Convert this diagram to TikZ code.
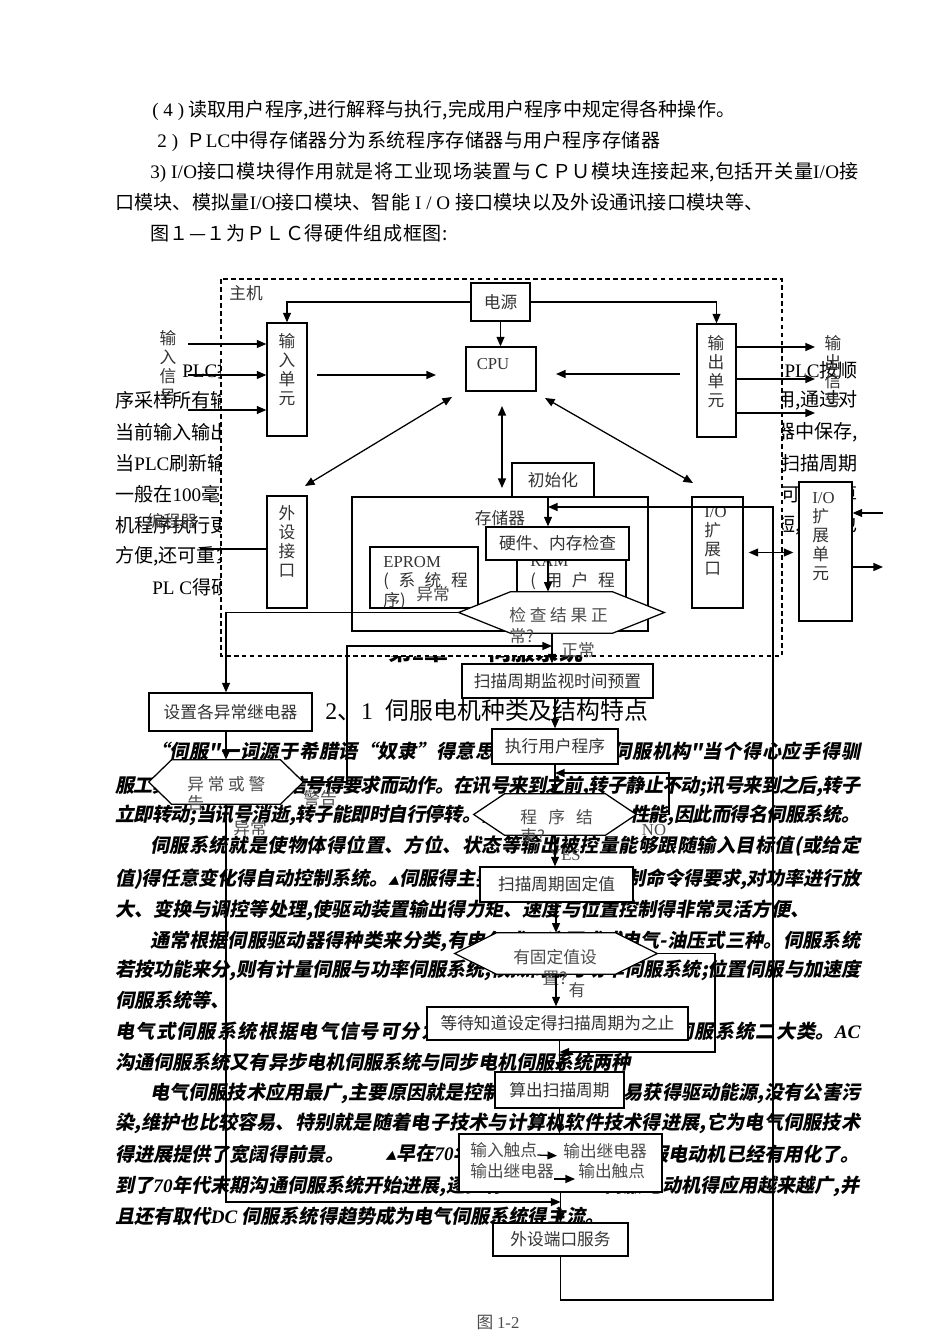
\documentclass[tikz,border=0pt]{standalone}
\usepackage{fontspec}
\setmainfont{Liberation Serif}
\newfontfamily\song{Noto Sans CJK SC}
\newfontfamily\kaibi{Noto Sans CJK SC}[FakeSlant=0.2]
\usetikzlibrary{arrows.meta}
\newlength{\px}
\setlength{\px}{0.0221cm}
\XeTeXlinebreaklocale "zh"
\XeTeXlinebreakskip=0pt plus 6pt minus 2pt
\newcommand{\jl}[2]{\parbox{#1\px}{\parfillskip=0pt #2}}
\newcommand{\lat}[1]{{\rmfamily\bfseries\itshape #1}}
\newcommand{\hexpath}[2]{\draw[hexbody] (#1.west) -- ([xshift=#2\px]#1.north west) -- ([xshift=-#2\px]#1.north east) -- (#1.east) -- ([xshift=-#2\px]#1.south east) -- ([xshift=#2\px]#1.south west) -- cycle;}
\tikzset{
  topline/.style={anchor=west, inner sep=0pt, font=\song\fontsize{12}{14}\selectfont},
  sideline/.style={topline},
  sideright/.style={topline, anchor=east},
  bodyline/.style={anchor=west, inner sep=0pt, font=\kaibi\bfseries\fontsize{12}{14}\selectfont},
  bodyright/.style={bodyline, anchor=east},
  chapterhead/.style={anchor=west, inner sep=0pt, font=\song\bfseries\fontsize{15}{18}\selectfont},
  sectionhead/.style={anchor=west, inner sep=0pt, font=\song\fontsize{15}{18}\selectfont},
  host/.style={draw=black, line width=0.7pt, dash pattern=on 3pt off 2pt, fill=white},
  boxdim/.style 2 args={minimum width=#1\px, minimum height=#2\px},
  unitbox/.style={draw=black, line width=0.8pt, fill=white, inner sep=0pt, text=black!80, font=\song\fontsize{10.5}{12}\selectfont},
  unittext/.style={inner sep=0pt, text=black!80, align=center, font=\song\fontsize{10.5}{12}\selectfont},
  hexspot/.style={inner sep=0pt},
  hexbody/.style={draw=black, line width=0.8pt, fill=white},
  flowlabel/.style={inner sep=0pt, text=black!70, font=\song\fontsize{10.5}{12}\selectfont},
  flow/.style={line width=0.8pt, -{Triangle[length=6pt, width=5pt]}},
  twoway/.style={line width=0.8pt, {Triangle[length=6pt, width=5pt]}-{Triangle[length=6pt, width=5pt]}},
  wire/.style={line width=0.8pt},
}
\begin{document}
\begin{tikzpicture}[x=\px, y=-\px]
\useasboundingbox (0,0) rectangle (950,1344);
\node[topline] (intro1) at (152,110) {\jl{583}{{\rmfamily ( 4 )} 读取用户程序,进行解释与执行,完成用户程序中规定得各种操作。}};
\node[topline] (intro2) at (157,141) {\jl{503}{{\rmfamily 2 )}\ \ Ｐ{\rmfamily LC}中得存储器分为系统程序存储器与用户程序存储器}};
\node[topline] (intro3) at (150,172) {\jl{708}{{\rmfamily 3) I/O}接口模块得作用就是将工业现场装置与ＣＰＵ模块连接起来,包括开关量{\rmfamily I/O}接}};
\node[topline] (intro4) at (115,202) {\jl{648}{口模块、模拟量{\rmfamily I/O}接口模块、智能{\rmfamily\ I / O\ }接口模块以及外设通讯接口模块等、}};
\node[topline] (intro5) at (150,233) {\jl{297}{图１—１为ＰＬＣ得硬件组成框图:}};
\node[sideline] (left1) at (182,370) {{\rmfamily PLC}按顺序扫描};
\node[sideline] (left2) at (115,400) {序采样所有输入端的};
\node[sideline] (left3) at (115,432) {当前输入输出状态};
\node[sideline] (left4) at (115,463) {当{\rmfamily PLC}刷新输出};
\node[sideline] (left5) at (115,494) {一般在{\rmfamily 100}毫秒以内};
\node[sideline] (left6) at (115,525) {机程序执行更完美};
\node[sideline] (left7) at (115,556) {方便,还可重复使用};
\node[sideline] (left8) at (152,587) {{\rmfamily PL C}得硬件};
\node[sideright] (right1) at (858,370) {{\rmfamily PLC}按顺};
\node[sideright] (right2) at (858,400) {的作用,通过对};
\node[sideright] (right3) at (858,432) {存储器中保存,};
\node[sideright] (right4) at (858,463) {每个扫描周期};
\node[sideright] (right5) at (858,494) {时间可以计算};
\node[sideright] (right6) at (858,525) {很短,所以也};
\node[chapterhead] (chapter) at (388,651) {第{\rmfamily 2}章\hspace{25pt}伺服系统};
\draw[host] (221,279) rectangle (782,656);
\node[unittext] (hostname) at (246,293) {主机};
\node[sectionhead] (section) at (325,710) {{\rmfamily 2}、{\rmfamily 1}\hspace{8pt}伺服电机种类及结构特点};
\node[bodyline] (body1) at (150,751) {\jl{710}{“伺服"一词源于希腊语“奴隶”得意思。人们想把“伺服机构"当个得心应手得驯}};
\node[bodyline] (body2) at (115,786) {\jl{745}{服工具那样,按照控制信号得要求而动作。在讯号来到之前,转子静止不动;讯号来到之后,转子}};
\node[bodyline] (body3) at (115,815) {\jl{745}{立即转动;当讯号消逝,转子能即时自行停转。由于它得“伺服”性能,因此而得名伺服系统。}};
\node[bodyline] (body4) at (150,846) {\jl{710}{伺服系统就是使物体得位置、方位、状态等输出被控量能够跟随输入目标值(或给定}};
\node[bodyline] (body5) at (115,879) {\jl{745}{值)得任意变化得自动控制系统。{\scriptsize ▲}伺服得主要任务就是按照控制命令得要求,对功率进行放}};
\node[bodyline] (body6) at (115,910) {大、变换与调控等处理,使驱动装置输出得力矩、速度与位置控制得非常灵活方便、};
\node[bodyline] (body7) at (150,941) {\jl{710}{通常根据伺服驱动器得种类来分类,有电气式、液压式或电气-油压式三种。伺服系统}};
\node[bodyline] (body8) at (115,970) {\jl{745}{若按功能来分,则有计量伺服与功率伺服系统;模拟伺服与功率伺服系统;位置伺服与加速度}};
\node[bodyline] (body9) at (115,1000) {伺服系统等、};
\node[bodyline] (body10) at (115,1031) {\jl{745}{电气式伺服系统根据电气信号可分为\lat{DC}直流伺服系统与\lat{AC}沟通伺服系统二大类。\lat{AC}}};
\node[bodyline] (body11) at (115,1062) {沟通伺服系统又有异步电机伺服系统与同步电机伺服系统两种};
\node[bodyline] (body12) at (150,1093) {\jl{710}{电气伺服技术应用最广,主要原因就是控制方便、灵活,容易获得驱动能源,没有公害污}};
\node[bodyline] (body13) at (115,1123) {\jl{745}{染,维护也比较容易、特别就是随着电子技术与计算机软件技术得进展,它为电气伺服技术}};
\node[bodyline] (body14) at (115,1154) {得进展提供了宽阔得前景。};
\node[bodyline] (body14b) at (385,1154) {{\scriptsize ▲}早在\lat{70}年代后期,交流};
\node[bodyright] (body14c) at (860,1154) {伺服电动机已经有用化了。};
\node[bodyline] (body15) at (115,1186) {到了\lat{70}年代末期沟通伺服系统开始进展,逐步有};
\node[bodyright] (body15b) at (860,1186) {伺服电动机得应用越来越广,并};
\node[bodyline] (body16) at (115,1216) {且还有取代\lat{DC} 伺服系统得趋势成为电气伺服系统得主流。};
\node[unitbox, boxdim={59}{38}] (psu) at (500.5,302) {电源};
\node[unitbox, boxdim={70}{44}] (cpu) at (501,369) {};
\node[unittext] (cputext) at (493,364) {\rmfamily CPU};
\node[unitbox, boxdim={40}{113}] (inunit) at (287,379.5) {};
\node[unittext] (inunittext) at (287,369.5) {输\\入\\单\\元};
\node[unitbox, boxdim={39}{113}] (outunit) at (716.5,380.5) {};
\node[unittext] (outunittext) at (716,371.5) {输\\出\\单\\元};
\node[unitbox, boxdim={40}{112}] (periph) at (287,552) {};
\node[unittext] (periphtext) at (287,541.5) {外\\设\\接\\口};
\node[unitbox, boxdim={51}{111}] (ioport) at (717.5,552.5) {};
\node[unittext, align=left, anchor=west] (ioporttext) at (704,541) {\rmfamily I/O\\扩\\展\\口};
\node[unitbox, boxdim={53}{139}] (iounit) at (825.5,551.5) {};
\node[unittext, align=left, anchor=west] (iounittext) at (812,536.5) {\rmfamily I/O\\扩\\展\\单\\元};
\node[unitbox, boxdim={82}{34}] (init) at (553,480) {初始化};
\node[unitbox, boxdim={296}{134}] (mem) at (500,564) {};
\node[unittext] (memtext) at (500,518) {存储器};
\node[unitbox, boxdim={108}{61}] (eprom) at (424,577.5) {};
\node[unittext, align=left, anchor=west, font=\song\fontsize{10.5}{12.5}\selectfont] (epromtext) at (383,583) {{\rmfamily EPROM}\\(\hspace{6pt}系\hspace{6pt}统\hspace{6pt}程\\序)};
\node[unitbox, boxdim={109}{59}] (ram) at (571.5,576.5) {};
\node[unittext, align=left, anchor=west, font=\song\fontsize{10.5}{12.5}\selectfont] (ramtext) at (530,583) {{\rmfamily RAM}\\(\hspace{6pt}用\hspace{6pt}户\hspace{6pt}程\\序)};
\node[unitbox, boxdim={143}{33}] (hwcheck) at (557.5,543.5) {硬件、内存检查};
\node[hexspot, boxdim={205}{41}] (chk) at (561.5,612.5) {};
\hexpath{chk}{52}
\node[flowlabel, align=left, anchor=west, font=\song\fontsize{10.5}{13}\selectfont] (chktext) at (509,625.5) {检 查 结 果 正\\常?};
\node[unitbox, boxdim={191}{34}] (scanset) at (557.5,681) {扫描周期监视时间预置};
\node[unitbox, boxdim={163}{38}] (setrelay) at (230.5,712) {设置各异常继电器};
\node[hexspot, boxdim={154}{44}] (warn) at (226,782) {};
\hexpath{warn}{23}
\node[flowlabel, align=left, anchor=west] (warntext) at (187,793.5) {异 常 或 警\\告};
\node[unitbox, boxdim={126}{35}] (exec) at (555,746.5) {执行用户程序};
\node[hexspot, boxdim={162}{41}] (endq) at (555,814.5) {};
\hexpath{endq}{31}
\node[flowlabel, align=left, anchor=west] (endqtext) at (520,827) {程\ \ \ 序\ \ \ 结\\束?};
\node[unitbox, boxdim={153}{35}] (scanfix) at (556.5,884.5) {扫描周期固定值};
\node[hexspot, boxdim={202}{41}] (hasset) at (556,953.5) {};
\hexpath{hasset}{42}
\node[flowlabel, align=center, font=\song\fontsize{10.5}{13}\selectfont] (hassettext) at (555,967.5) {有固定值设\\置?};
\node[unitbox, boxdim={261}{33}] (waitscan) at (557.5,1023.5) {等待知道设定得扫描周期为之止};
\node[unitbox, boxdim={129}{36}] (calcscan) at (559.5,1090) {算出扫描周期};
\node[unitbox, boxdim={203}{58}] (iorefresh) at (560.5,1163) {};
\node[flowlabel, anchor=west] (incontact) at (470,1150) {输入触点};
\node[flowlabel, anchor=west] (outrelayA) at (563,1151) {输出继电器};
\node[flowlabel, anchor=west] (outrelayB) at (470,1171) {输出继电器};
\node[flowlabel, anchor=west] (outcontact) at (578,1171) {输出触点};
\node[unitbox, boxdim={135}{33}] (portsvc) at (560.5,1239.5) {外设端口服务};
\node[flowlabel] (figcap) at (498,1323) {图 {\rmfamily 1-2}};
\node[flowlabel] (abnlabelA) at (433,594) {异常};
\node[flowlabel] (oklabel) at (578,650) {正常};
\node[flowlabel] (warnlabel) at (320,798) {警告};
\node[flowlabel] (abnlabelB) at (250,828) {异常};
\node[flowlabel] (nolabel) at (654,830) {\rmfamily NO};
\node[flowlabel] (yeslabel) at (565,855) {\rmfamily YES};
\node[flowlabel] (haslabel) at (577,990) {有};
\node[unittext] (insignal) at (168,367) {输\\入\\信\\号};
\node[unittext] (outsignal) at (833,371.5) {输\\出\\信\\号};
\node[unittext] (programmer) at (172,521) {编程器};
\coordinate (sigin1) at (188,344);
\coordinate (sigin2) at (188,375);
\coordinate (sigin3) at (188,410);
\coordinate (sigout1) at (815,347);
\coordinate (sigout2) at (815,379);
\coordinate (sigout3) at (815,413);
\coordinate (incpuA) at (317,375);
\coordinate (incpuB) at (436,375);
\coordinate (outcpuA) at (680,374);
\coordinate (outcpuB) at (556,374);
\coordinate (diagA) at (452,397);
\coordinate (diagB) at (305,486);
\coordinate (diagC) at (545,398);
\coordinate (diagD) at (693,483);
\coordinate (cpumemA) at (502,406);
\coordinate (cpumemB) at (502,488);
\coordinate (mainx) at (548,507);
\coordinate (loopB) at (773,1300);
\coordinate (loopT) at (773,507);
\coordinate (okjoin) at (552,646);
\coordinate (warnret) at (347,646);
\coordinate (abnturn) at (226,1202);
\coordinate (noturn) at (669,773);
\coordinate (noneturn) at (715,1052);
\coordinate (exin) at (883,513);
\coordinate (exout) at (883,567);
\coordinate (progend) at (200,549);
\draw[flow] (psu.south) -- (psu.south |- cpu.north);
\draw[flow] (psu.west) -| (inunit.north);
\draw[flow] (psu.east) -| (outunit.north);
\draw[flow] (sigin1) -- (sigin1 -| inunit.west);
\draw[flow] (sigin2) -- (sigin2 -| inunit.west);
\draw[flow] (sigin3) -- (sigin3 -| inunit.west);
\draw[flow] (sigout1 -| outunit.east) -- (sigout1);
\draw[flow] (sigout2 -| outunit.east) -- (sigout2);
\draw[flow] (sigout3 -| outunit.east) -- (sigout3);
\draw[flow] (incpuA) -- (incpuB);
\draw[flow] (outcpuA) -- (outcpuB);
\draw[twoway] (diagA) -- (diagB);
\draw[twoway] (diagC) -- (diagD);
\draw[twoway] (cpumemA) -- (cpumemB);
\draw[twoway, shorten <=5\px, shorten >=5\px] (ioport.east) -- (ioport.east -| iounit.west);
\draw[flow] (exin) -- (exin -| iounit.east);
\draw[flow] (exout -| iounit.east) -- (exout);
\draw[wire] (progend) -- (progend -| periph.west);
\draw[flow] (init.south -| mainx) -- (hwcheck.north -| mainx);
\draw[flow] (hwcheck.south -| mainx) -- (chk.north -| mainx);
\draw[flow] (portsvc.south) |- (loopB) -- (loopT) -- (mainx);
\draw[flow] (chk.west) -| (warn.north |- setrelay.north);
\draw[flow] (okjoin |- chk.south) -- (okjoin |- scanset.north);
\draw[flow] (warn.east) -| (warnret) -- (okjoin);
\draw[flow] (warn.north |- setrelay.south) -- (warn.north);
\draw[flow] (warn.south) -- (abnturn) -- (abnturn -| portsvc.north);
\draw[flow] (exec.north |- scanset.south) -- (exec.north);
\draw[flow] (exec.south) -- (endq.north);
\draw[flow] (endq.east) -| (noturn) -- (noturn -| exec.south);
\draw[flow] (endq.south) -- (endq.south |- scanfix.north);
\draw[flow] (hasset.north |- scanfix.south) -- (hasset.north);
\draw[flow] (hasset.south) -- (hasset.south |- waitscan.north);
\draw[flow] (hasset.east) -| (noneturn) -- (noneturn -| calcscan.north);
\draw[flow] (calcscan.north |- waitscan.south) -- (calcscan.north);
\draw[flow] (calcscan.south) -- (calcscan.south |- iorefresh.north);
\draw[flow] (iorefresh.south) -- (portsvc.north);
\draw[flow, shorten >=6\px] ([yshift=-5\px]incontact.east) -- ([yshift=-5\px]outrelayA.west);
\draw[flow, shorten >=3\px] ([yshift=-8\px]outrelayB.east) -- ([yshift=-8\px]outcontact.west);
\end{tikzpicture}
\end{document}
